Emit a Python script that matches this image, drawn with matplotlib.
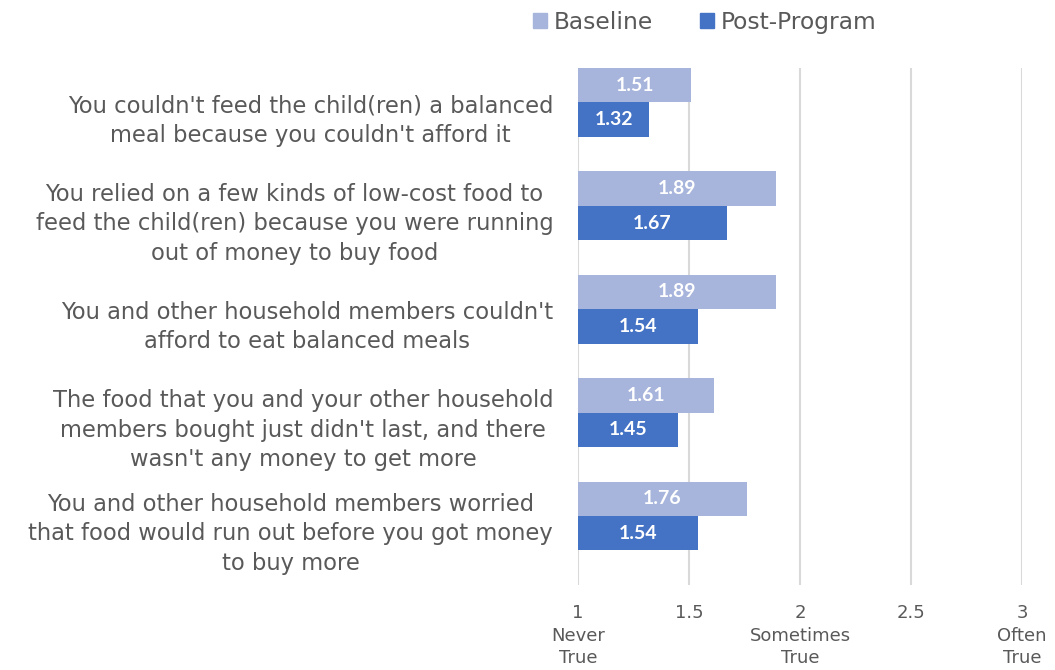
import matplotlib
matplotlib.use("Agg")
import matplotlib.pyplot as plt
from matplotlib.patches import Patch
import numpy as np

# Survey items, listed top to bottom
items = [
    "You couldn't feed the child(ren) a balanced\nmeal because you couldn't afford it",
    "You relied on a few kinds of low-cost food to\nfeed the child(ren) because you were running\nout of money to buy food",
    "You and other household members couldn't\nafford to eat balanced meals",
    "The food that you and your other household\nmembers bought just didn't last, and there\nwasn't any money to get more",
    "You and other household members worried\nthat food would run out before you got money\nto buy more",
]
baseline = [1.51, 1.89, 1.89, 1.61, 1.76]
post_program = [1.32, 1.67, 1.54, 1.45, 1.54]

x_ticks = [1, 1.5, 2, 2.5, 3]
x_tick_labels = ["1\nNever\nTrue", "1.5", "2\nSometimes\nTrue", "2.5", "3\nOften\nTrue"]
series_names = ["Baseline", "Post-Program"]

TEXT = "#595959"
C_BASE = "#A7B4DB"
C_POST = "#4472C4"
GRID = "#D9D9D9"
FONT = "DejaVu Sans"
LABEL_FONT = "Lato"

fig = plt.figure(figsize=(10.55, 6.7), dpi=100)
ax = fig.add_axes([0.548, 0.127, 0.4207, 0.7715])

n = len(items)
pos = np.arange(n)
h = 1 / 3
base_y = pos - 0.5 + h / 2
post_y = pos - 0.5 + h + h / 2

# Bars start at the axis origin of 1
b1 = ax.barh(base_y, np.array(baseline) - 1, left=1, height=h, color=C_BASE, zorder=3)
b2 = ax.barh(post_y, np.array(post_program) - 1, left=1, height=h, color=C_POST, zorder=3)

for bars, vals in ((b1, baseline), (b2, post_program)):
    for bar, v in zip(bars, vals):
        ax.text(1 + (v - 1) / 2, bar.get_y() + bar.get_height() / 2, f"{v:.2f}",
                ha="center", va="center", color="white", fontsize=14,
                fontweight="bold", family=LABEL_FONT, zorder=4)

ax.set_xlim(1, 3)
ax.set_ylim(n - 0.5, -0.5)
ax.set_xticks(x_ticks)
ax.set_xticklabels(x_tick_labels, fontsize=13, color=TEXT, family=FONT, linespacing=1.3)
# category labels sit slightly above the slot centre
ax.set_yticks(pos - 0.05)
ax.set_yticklabels(items, fontsize=16.3, color=TEXT, family=FONT, ha="right",
                   multialignment="center", linespacing=1.36)
ax.tick_params(axis="y", length=0, pad=18)
ax.tick_params(axis="x", length=0, pad=14)
for s in ax.spines.values():
    s.set_visible(False)
ax.grid(axis="x", color=GRID, linewidth=1.5, zorder=0)
ax.set_axisbelow(True)

handles = [Patch(color=C_BASE), Patch(color=C_POST)]
leg = fig.legend(handles, series_names, loc="center", bbox_to_anchor=(0.668, 0.967),
                 ncol=2, frameon=False, handlelength=0.6, handleheight=0.6,
                 handletextpad=0.3, columnspacing=2.0, prop={"family": FONT, "size": 16.8})
for t in leg.get_texts():
    t.set_color(TEXT)

fig.savefig("out.png", dpi=100)
